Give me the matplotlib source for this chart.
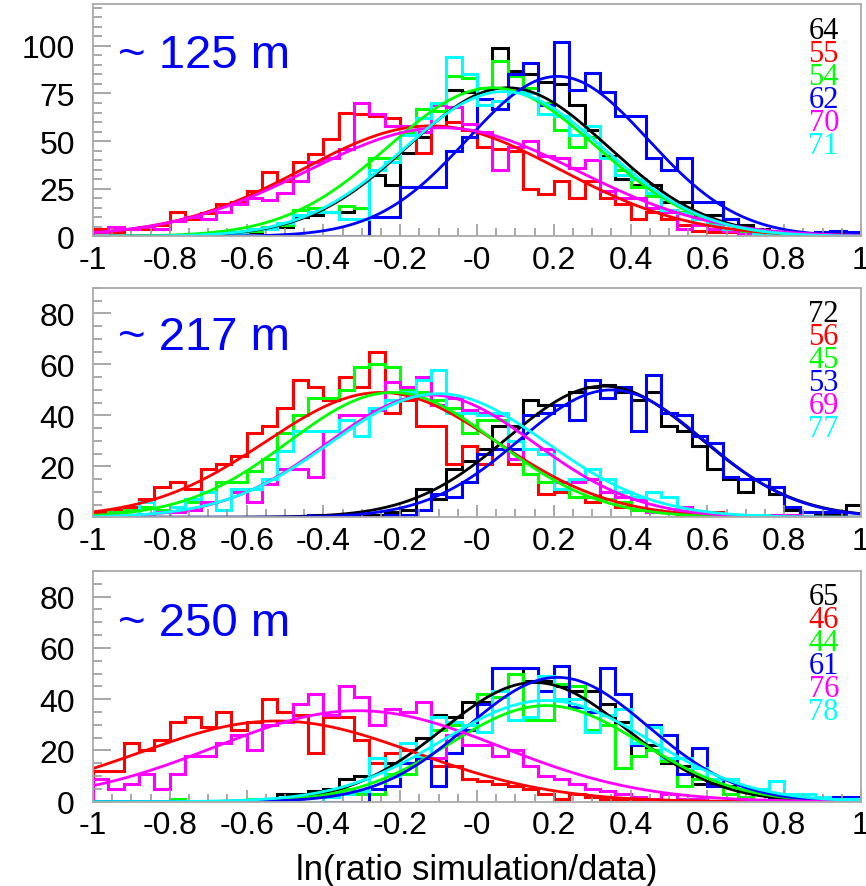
import numpy as np
import matplotlib.pyplot as plt
from matplotlib.ticker import MultipleLocator, FixedLocator, FixedFormatter

plt.rcParams['font.family'] = ['Liberation Sans', 'DejaVu Sans']

# 50 bins of 0.04 between -1 and 1, counts
# order of series: black, red, green, blue, magenta, cyan

# ---- ~125 m ----
black_125 = [0, 0, 0, 0, 0, 0, 1, 1, 1, 2, 2, 4, 5, 10, 11, 13, 13, 15, 32, 27,
             44, 52, 58, 77, 76, 78, 99, 87, 85, 81, 80, 69, 56, 42, 30, 27, 27, 18, 18, 11,
             11, 9, 6, 4, 2, 1, 1, 2, 1, 1]
red_125 = [4, 2, 4, 4, 6, 13, 9, 12, 17, 18, 24, 34, 29, 39, 43, 51, 65, 64, 63, 62,
           58, 44, 58, 60, 56, 47, 46, 45, 25, 22, 29, 20, 29, 20, 17, 9, 13, 9, 6, 3,
           2, 2, 1, 1, 0, 0, 0, 0, 0, 0]
green_125 = [0, 0, 0, 0, 0, 0, 0, 1, 1, 2, 3, 5, 6, 14, 15, 13, 16, 15, 41, 41,
             55, 67, 66, 84, 83, 78, 92, 84, 78, 70, 56, 47, 52, 41, 35, 26, 21, 14, 13, 9,
             7, 4, 3, 2, 1, 1, 0, 0, 0, 0]
blue_125 = [0, 0, 0, 0, 0, 0, 0, 0, 0, 0, 0, 0, 0, 0, 0, 0, 0, 0, 10, 10,
            26, 26, 26, 45, 52, 72, 67, 85, 91, 69, 102, 77, 86, 76, 63, 63, 41, 35, 41, 18,
            18, 9, 4, 3, 2, 1, 1, 2, 3, 2]
magenta_125 = [2, 5, 4, 5, 4, 8, 10, 9, 13, 17, 20, 19, 23, 29, 39, 41, 46, 70, 64, 58,
               58, 55, 69, 68, 59, 55, 35, 47, 50, 42, 41, 36, 40, 24, 20, 20, 15, 13, 4, 6,
               4, 3, 1, 1, 1, 0, 0, 0, 0, 0]
cyan_125 = [0, 0, 0, 0, 0, 0, 0, 0, 1, 1, 4, 4, 7, 11, 13, 13, 9, 9, 35, 39,
            53, 62, 70, 94, 85, 69, 71, 76, 75, 64, 63, 53, 58, 41, 32, 30, 23, 14, 12, 9,
            6, 4, 4, 1, 1, 0, 0, 0, 0, 0]

# ---- ~217 m ----
black_217 = [0, 0, 0, 0, 0, 0, 0, 0, 0, 0, 0, 0, 0, 0, 0, 0, 0, 1, 1, 2,
             3, 11, 7, 19, 22, 27, 36, 36, 46, 44, 44, 49, 51, 52, 49, 46, 49, 36, 34, 28,
             19, 15, 10, 15, 9, 3, 2, 1, 1, 5]
red_217 = [2, 3, 4, 7, 12, 14, 11, 19, 21, 24, 33, 36, 43, 54, 51, 46, 55, 51, 65, 41,
           46, 36, 36, 21, 28, 21, 27, 21, 17, 9, 10, 8, 6, 10, 4, 3, 2, 2, 1, 2,
           2, 0, 0, 0, 0, 0, 0, 0, 0, 0]
green_217 = [0, 2, 3, 4, 3, 4, 6, 10, 14, 14, 18, 23, 33, 40, 47, 47, 50, 59, 60, 59,
             50, 49, 46, 43, 33, 38, 38, 23, 17, 14, 11, 8, 8, 7, 6, 3, 3, 2, 4, 2,
             1, 0, 0, 0, 1, 0, 0, 0, 0, 0]
blue_217 = [0, 0, 0, 0, 0, 0, 0, 0, 0, 0, 0, 0, 0, 0, 1, 1, 1, 0, 0, 1,
            1, 3, 9, 8, 14, 25, 27, 27, 40, 41, 44, 38, 54, 47, 51, 34, 56, 41, 40, 32,
            29, 16, 15, 15, 12, 4, 2, 2, 2, 0]
magenta_217 = [0, 0, 1, 0, 2, 2, 3, 6, 3, 10, 6, 13, 19, 19, 16, 34, 40, 40, 42, 53,
               51, 55, 44, 47, 42, 41, 40, 23, 27, 27, 14, 14, 15, 10, 8, 7, 2, 2, 4, 0,
               0, 1, 0, 0, 1, 1, 0, 0, 0, 0]
cyan_217 = [0, 0, 1, 6, 0, 4, 7, 10, 3, 11, 11, 15, 26, 34, 34, 34, 38, 32, 43, 46,
            49, 54, 58, 41, 41, 40, 41, 30, 27, 25, 11, 15, 19, 15, 10, 8, 10, 8, 2, 1,
            0, 0, 0, 1, 0, 0, 0, 0, 0, 0]

# ---- ~250 m ----
black_250 = [0, 0, 0, 0, 0, 0, 0, 0, 0, 0, 0, 1, 3, 3, 4, 5, 9, 10, 17, 15,
             20, 25, 34, 33, 39, 39, 52, 52, 47, 47, 45, 43, 43, 38, 31, 18, 22, 15, 14, 7,
             7, 6, 5, 5, 3, 2, 1, 1, 1, 1]
red_250 = [12, 12, 23, 20, 24, 31, 33, 29, 35, 28, 31, 40, 35, 34, 19, 33, 33, 24, 15, 19,
           20, 18, 14, 14, 9, 8, 7, 6, 5, 3, 1, 3, 2, 1, 1, 1, 1, 0, 1, 0,
           0, 0, 0, 0, 0, 0, 0, 0, 0, 0]
green_250 = [0, 0, 0, 0, 0, 1, 0, 0, 0, 0, 1, 1, 1, 2, 3, 3, 5, 3, 3, 11,
             11, 17, 28, 30, 30, 42, 41, 50, 32, 32, 46, 45, 28, 30, 13, 18, 20, 16, 6, 9,
             6, 3, 2, 3, 2, 1, 1, 2, 1, 1]
blue_250 = [0, 0, 0, 0, 0, 0, 0, 0, 0, 0, 0, 0, 0, 0, 0, 0, 0, 0, 5, 6,
            15, 17, 6, 19, 28, 38, 52, 52, 52, 43, 53, 37, 35, 52, 42, 22, 30, 26, 11, 21,
            6, 9, 4, 3, 2, 1, 1, 1, 2, 2]
magenta_250 = [9, 5, 7, 11, 5, 11, 18, 18, 23, 26, 20, 30, 31, 38, 42, 34, 45, 41, 30, 36,
               35, 39, 17, 26, 22, 22, 18, 20, 14, 10, 9, 7, 5, 4, 3, 2, 1, 3, 1, 1,
               0, 0, 0, 0, 0, 0, 0, 0, 0, 0]
cyan_250 = [0, 0, 0, 0, 0, 0, 0, 0, 0, 0, 0, 0, 0, 0, 0, 2, 3, 4, 17, 10,
            23, 18, 33, 31, 30, 27, 43, 32, 33, 49, 40, 40, 27, 34, 36, 23, 29, 17, 17, 13,
            9, 9, 5, 5, 8, 3, 3, 2, 1, 1]

# gaussian fits: (amplitude, mean, sigma)
fits_125 = [(78, 0.08, 0.26), (58, -0.12, 0.335), (78, 0.04, 0.27),
            (84, 0.21, 0.235), (57, -0.09, 0.35), (76, 0.07, 0.26)]
fits_217 = [(51.5, 0.33, 0.25), (49, -0.25, 0.30), (49, -0.22, 0.27),
            (50, 0.35, 0.24), (48, -0.12, 0.27), (48.5, -0.10, 0.28)]
fits_250 = [(46.5, 0.15, 0.24), (31.5, -0.52, 0.36), (37.5, 0.18, 0.25),
            (48.5, 0.21, 0.235), (35.5, -0.31, 0.37), (39.5, 0.18, 0.27)]

labels_125 = ['64', '55', '54', '62', '70', '71']
labels_217 = ['72', '56', '45', '53', '69', '77']
labels_250 = ['65', '46', '44', '61', '76', '78']

titles = ['~ 125 m', '~ 217 m', '~ 250 m']
xtick_labels = ['-1', '-0.8', '-0.6', '-0.4', '-0.2', '-0', '0.2', '0.4', '0.6', '0.8', '1']

colors = ['black', '#ff0000', '#00ff00', '#0000ff', '#ff00ff', '#00ffff']

W, H = 866, 887
fig = plt.figure(figsize=(W / 100, H / 100), dpi=100)

edges = np.linspace(-1, 1, 51)
xf = np.linspace(-1, 1, 500)

# pixel geometry: (top, bottom, ymax, major, title baseline, first label baseline)
panels = [
    (5, 237.3, 122, 25, 68, 39, [black_125, red_125, green_125, blue_125, magenta_125, cyan_125], fits_125, labels_125),
    (289, 518.3, 90, 20, 350, 322, [black_217, red_217, green_217, blue_217, magenta_217, cyan_217], fits_217, labels_217),
    (572, 802.7, 90, 20, 636, 605, [black_250, red_250, green_250, blue_250, magenta_250, cyan_250], fits_250, labels_250),
]

left, right = 93, 861
for k, (top, bot, ymax, major, tb, lb, hists, fits, labs) in enumerate(panels):
    ax = fig.add_axes([left / W, 1 - bot / H, (right - left) / W, (bot - top) / H])
    for h, (a, m, s), c in zip(hists, fits, colors):
        ax.stairs(h, edges, color=c, lw=2.2, baseline=0)
        ax.plot(xf, a * np.exp(-0.5 * ((xf - m) / s) ** 2), color=c, lw=2)
    ax.set_xlim(-1, 1)
    ax.set_ylim(0, ymax)

    ax.xaxis.set_major_locator(FixedLocator(np.linspace(-1, 1, 11)))
    ax.xaxis.set_major_formatter(FixedFormatter(xtick_labels))
    ax.xaxis.set_minor_locator(MultipleLocator(0.05))
    ax.yaxis.set_major_locator(MultipleLocator(major))
    ax.yaxis.set_minor_locator(MultipleLocator(5))
    ax.tick_params(which='both', direction='in', color='#999999', width=1.2,
                   labelsize=23, top=False, right=False)
    ax.tick_params(axis='y', which='major', length=13, pad=13)
    ax.tick_params(axis='y', which='minor', length=6.5)
    ax.tick_params(axis='x', which='major', length=9, pad=6)
    ax.tick_params(axis='x', which='minor', length=6)
    for sp in ax.spines.values():
        sp.set_color('#aaaaaa')
        sp.set_linewidth(1.3)

    fig.text(118 / W, 1 - tb / H, titles[k], color='#0000ff', fontsize=34,
             va='baseline', ha='left')
    for j, (lab, c) in enumerate(zip(labs, colors)):
        fig.text(839 / W, 1 - (lb + 23.1 * j) / H, lab, color=c, fontsize=22,
                 family='Liberation Serif', va='baseline', ha='right')

fig.text((left + right) / 2 / W, 1 - 880 / H, 'ln(ratio simulation/data)', fontsize=25,
         va='baseline', ha='center')

fig.savefig('out.png', dpi=100)
